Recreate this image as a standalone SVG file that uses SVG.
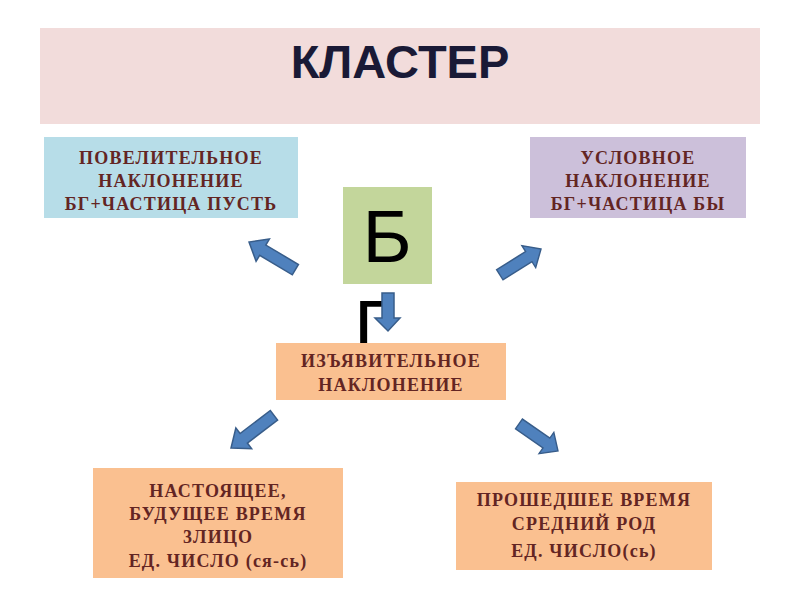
<svg xmlns="http://www.w3.org/2000/svg" width="800" height="600" viewBox="0 0 800 600">
<style>
.t{font-family:"Liberation Serif","Times New Roman",serif;font-weight:bold;font-size:18px;fill:#632523;text-anchor:middle;letter-spacing:1.2px}
.arr{fill:#4f81bd;stroke:#385d8a;stroke-width:1.5;stroke-linejoin:miter}
</style>
<defs>
<path id="ba" d="M0,0 L-16,-13 L-16,-6 L-54,-6 L-54,6 L-16,6 L-16,13 Z"/>
<clipPath id="gclip"><rect x="340" y="285" width="60" height="58"/></clipPath>
</defs>
<rect width="800" height="600" fill="#fff"/>
<g id="title">
<rect x="40" y="28" width="720" height="96" fill="#f2dcdb"/>
<text x="400" y="78" font-family="Liberation Sans,Arial,sans-serif" font-weight="bold" font-size="47" fill="#1a1a36" text-anchor="middle">КЛАСТЕР</text>
</g>
<g id="povel">
<rect x="44" y="137" width="254" height="81" fill="#b7dde8"/>
<text class="t" x="171" y="164">ПОВЕЛИТЕЛЬНОЕ</text>
<text class="t" x="171" y="187">НАКЛОНЕНИЕ</text>
<text class="t" x="171" y="210">БГ+ЧАСТИЦА ПУСТЬ</text>
</g>
<g id="uslov">
<rect x="530" y="137" width="216" height="81" fill="#ccc0da"/>
<text class="t" x="638" y="164">УСЛОВНОЕ</text>
<text class="t" x="638" y="187">НАКЛОНЕНИЕ</text>
<text class="t" x="638" y="210">БГ+ЧАСТИЦА БЫ</text>
</g>
<g id="bg">
<rect x="343" y="187" width="89" height="97" fill="#c3d69b"/>
<text x="387" y="262" font-family="Liberation Sans,Arial,sans-serif" font-size="75" fill="#000" text-anchor="middle">Б</text>
<text x="354" y="352" font-family="Liberation Sans,Arial,sans-serif" font-size="75" fill="#000" clip-path="url(#gclip)">Г</text>
</g>
<g id="izyav">
<rect x="276" y="343" width="230" height="57" fill="#fac090"/>
<text class="t" x="391" y="367">ИЗЪЯВИТЕЛЬНОЕ</text>
<text class="t" x="391" y="391">НАКЛОНЕНИЕ</text>
</g>
<g id="nast">
<rect x="93" y="468" width="250" height="110" fill="#fac090"/>
<text class="t" x="218" y="497">НАСТОЯЩЕЕ,</text>
<text class="t" x="218" y="520">БУДУЩЕЕ ВРЕМЯ</text>
<text class="t" x="218" y="543">3ЛИЦО</text>
<text class="t" x="218" y="567">ЕД. ЧИСЛО  (ся-сь)</text>
</g>
<g id="proch">
<rect x="456" y="482" width="256" height="88" fill="#fac090"/>
<text class="t" x="584" y="506">ПРОШЕДШЕЕ ВРЕМЯ</text>
<text class="t" x="584" y="530">СРЕДНИЙ РОД</text>
<text class="t" x="584" y="557">ЕД. ЧИСЛО(сь)</text>
</g>
<g id="connectors">
<use href="#ba" class="arr" transform="translate(249,242) rotate(210.8)"/>
<use href="#ba" class="arr" transform="translate(541,249) rotate(-32) scale(0.9,1)"/>
<use href="#ba" class="arr" transform="translate(231,448) rotate(142.7)"/>
<use href="#ba" class="arr" transform="translate(558,451) rotate(34.7) scale(0.88,1)"/>
<path class="arr" d="M382,293 L394,293 L394,318 L400,318 L388,331 L375,318 L382,318 Z"/>
</g>
</svg>
